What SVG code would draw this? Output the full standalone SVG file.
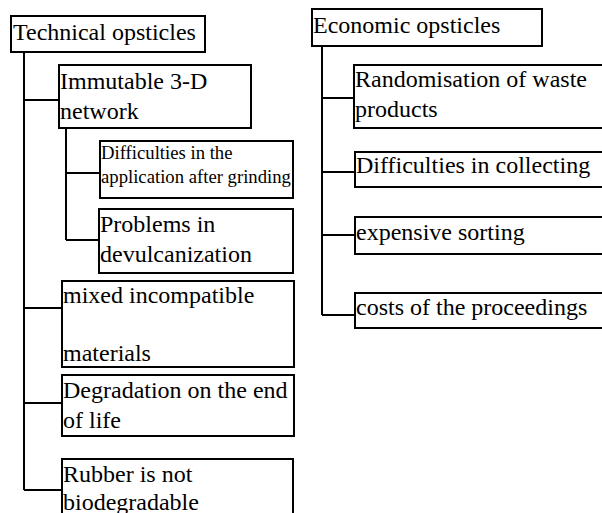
<svg xmlns="http://www.w3.org/2000/svg" width="602" height="513" viewBox="0 0 602 513">
<style>
.box{fill:#fff;stroke:#000;stroke-width:2}
.t{font-family:'Liberation Serif','Tinos','Times New Roman','DejaVu Serif',serif;font-size:24px;fill:#000}
.s{font-family:'Liberation Serif','Tinos','Times New Roman','DejaVu Serif',serif;font-size:18.7px;fill:#000}
.c{fill:none;stroke:#000;stroke-width:2}
</style>
<rect width="602" height="513" fill="#fff"/>
<g id="connectors">
<path class="c" d="M24,52 V490 M24,100 H59 M24,308 H62 M24,403 H62 M24,490 H62"/>
<path class="c" d="M66,128 V240 M66,173 H100 M66,240 H99"/>
<path class="c" d="M322,46 V315 M322,98 H354 M322,172 H355 M322,235 H355 M322,315 H355"/>
</g>
<g id="technical"><rect class="box" x="11" y="16" width="194" height="36"/><text class="t" x="13" y="40">Technical opsticles</text></g>
<g id="immutable"><rect class="box" x="59" y="65" width="192" height="63"/><text class="t" x="60" y="89">Immutable 3-D</text><text class="t" x="60" y="119">network</text></g>
<g id="difficulties-grinding"><rect class="box" x="100" y="141" width="193" height="57"/><text class="s" x="101" y="159">Difficulties in the</text><text class="s" x="101" y="182.5">application after grinding</text></g>
<g id="problems"><rect class="box" x="99" y="209" width="194" height="64"/><text class="t" x="100" y="232">Problems in</text><text class="t" x="100" y="262">devulcanization</text></g>
<g id="mixed"><rect class="box" x="62" y="281" width="232" height="86"/><text class="t" x="63" y="303">mixed incompatible</text><text class="t" x="63" y="361">materials</text></g>
<g id="degradation"><rect class="box" x="62" y="375" width="232" height="61"/><text class="t" x="63" y="398">Degradation on the end</text><text class="t" x="63" y="428">of life</text></g>
<g id="rubber"><rect class="box" x="62" y="459" width="231" height="70"/><text class="t" x="63" y="482">Rubber is not</text><text class="t" x="63" y="510">biodegradable</text></g>
<g id="economic"><rect class="box" x="312" y="9" width="230" height="37"/><text class="t" x="313" y="33">Economic opsticles</text></g>
<g id="randomisation"><rect class="box" x="354" y="65" width="260" height="63"/><text class="t" x="355" y="87">Randomisation of waste</text><text class="t" x="355" y="117">products</text></g>
<g id="collecting"><rect class="box" x="355" y="152" width="260" height="35"/><text class="t" x="356" y="173">Difficulties in collecting</text></g>
<g id="sorting"><rect class="box" x="355" y="217" width="260" height="37"/><text class="t" x="356" y="240">expensive sorting</text></g>
<g id="costs"><rect class="box" x="355" y="293" width="260" height="35"/><text class="t" x="356" y="315">costs of the proceedings</text></g>
</svg>
